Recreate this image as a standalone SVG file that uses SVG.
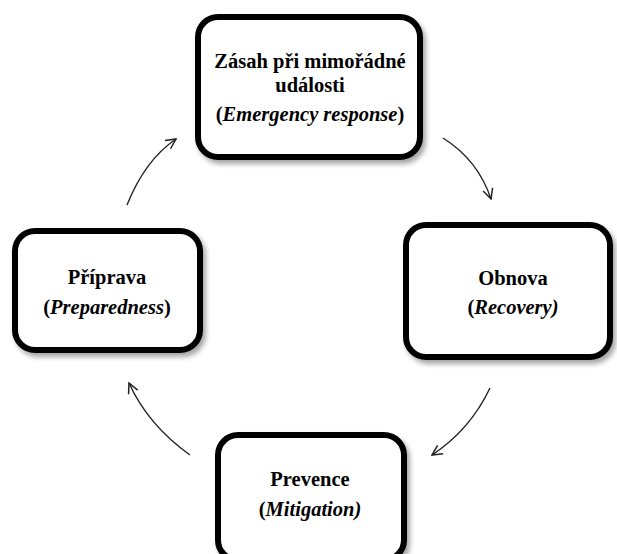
<svg xmlns="http://www.w3.org/2000/svg" width="617" height="554" viewBox="0 0 617 554">
<style>
.box{fill:#fff;stroke:#000;stroke-width:6;filter:url(#sh)}
.t{font-family:"Liberation Serif","Times New Roman",serif;font-weight:bold;font-size:20.5px;fill:#000;text-anchor:middle}
.i{font-style:italic}
.c{fill:none;stroke:#222;stroke-width:1.4;marker-end:url(#ah)}
</style>
<defs>
<filter id="sh" x="-10%" y="-10%" width="125%" height="130%">
<feDropShadow dx="3" dy="4" stdDeviation="2.5" flood-color="#000" flood-opacity="0.35"/>
</filter>
<marker id="ah" viewBox="0 0 12 12" refX="11" refY="6" markerWidth="12" markerHeight="12" markerUnits="userSpaceOnUse" orient="auto">
<path d="M1,1 L11,6 L1,11" fill="none" stroke="#222" stroke-width="1.5"/>
</marker>
</defs>
<g id="connectors">
<path class="c" d="M443,138 Q478,160 491,199"/>
<path class="c" d="M490,388 Q470,430 432,455"/>
<path class="c" d="M190,455 Q148,425 129,383"/>
<path class="c" d="M127,205 Q145,160 176,139"/>
</g>
<g id="zasah">
<rect class="box" x="198" y="17" width="222" height="140" rx="20"/>
<text class="t" x="310" y="68">Zásah při mimořádné</text>
<text class="t" x="310" y="92">události</text>
<text class="t" x="310" y="121">(<tspan class="i">Emergency response</tspan>)</text>
</g>
<g id="obnova">
<rect class="box" x="406" y="225" width="204" height="132" rx="20"/>
<text class="t" x="513" y="285">Obnova</text>
<text class="t" x="513" y="314">(<tspan class="i">Recovery)</tspan></text>
</g>
<g id="priprava">
<rect class="box" x="15" y="231" width="185" height="119" rx="20"/>
<text class="t" x="107" y="284">Příprava</text>
<text class="t" x="107" y="314">(<tspan class="i">Preparedness</tspan>)</text>
</g>
<g id="prevence">
<rect class="box" x="218" y="435" width="186" height="125" rx="20"/>
<text class="t" x="310" y="486">Prevence</text>
<text class="t" x="310" y="516">(<tspan class="i">Mitigation)</tspan></text>
</g>
</svg>
